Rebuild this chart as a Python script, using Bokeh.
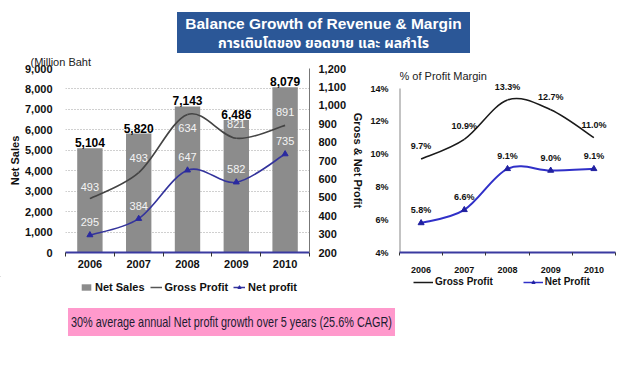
from bokeh.plotting import figure
from bokeh.models import (Range1d, LinearAxis, FixedTicker, Legend, LegendItem,
                          Div, NumeralTickFormatter, LabelSet, Label, ColumnDataSource)
from bokeh.layouts import column, row
from bokeh.embed import file_html
from bokeh.resources import INLINE
from bokeh.core.properties import value

# ---------------- data ----------------
years = ["2006", "2007", "2008", "2009", "2010"]
net_sales = [5104, 5820, 7143, 6486, 8079]
gross_profit = [493, 634, 950, 821, 891]
gross_profit_labels = ["493", "493", "634", "821", "891"]
net_profit = [295, 384, 647, 582, 735]
gross_margin = [9.7, 10.9, 13.3, 12.7, 11.0]
net_margin = [5.8, 6.6, 9.1, 9.0, 9.1]
sales_ticks = [0, 1000, 2000, 3000, 4000, 5000, 6000, 7000, 8000, 9000]
profit_ticks = [200, 300, 400, 500, 600, 700, 800, 900, 1000, 1100, 1200]
margin_ticks = [4, 6, 8, 10, 12, 14]

FONT = "Liberation Sans"
BAR = "#8c8c8c"
GROSS_L = "#444444"
NET_L = "#34349c"
GROSS_R = "#1a1a1a"
NET_R = "#3030c8"
idx = list(range(len(years)))


def smooth(xs, ys):
    """Bezier control points for a smoothed (Catmull-Rom) line through the data points."""
    n = len(xs)
    pts = list(zip(xs, ys))
    out = {k: [] for k in ("x0", "y0", "x1", "y1", "cx0", "cy0", "cx1", "cy1")}
    for i in range(n - 1):
        p0 = pts[i - 1] if i > 0 else pts[i]
        p1 = pts[i]
        p2 = pts[i + 1]
        p3 = pts[i + 2] if i + 2 < n else pts[i + 1]
        out["x0"].append(p1[0]); out["y0"].append(p1[1])
        out["x1"].append(p2[0]); out["y1"].append(p2[1])
        out["cx0"].append(p1[0] + (p2[0] - p0[0]) / 6)
        out["cy0"].append(p1[1] + (p2[1] - p0[1]) / 6)
        out["cx1"].append(p2[0] - (p3[0] - p1[0]) / 6)
        out["cy1"].append(p2[1] - (p3[1] - p1[1]) / 6)
    return out


def style_axis(ax, size):
    ax.major_label_text_font = FONT
    ax.major_label_text_font_style = "bold"
    ax.major_label_text_font_size = size
    ax.major_label_text_color = "#111111"
    ax.axis_label_text_font = FONT
    ax.axis_label_text_font_style = "bold"
    ax.axis_label_text_font_size = size
    ax.axis_label_text_color = "#111111"
    ax.minor_tick_line_color = None


def cat_xaxis(ax, size, standoff, tick_out):
    ax.ticker = FixedTicker(ticks=idx, minor_ticks=[i - 0.5 for i in range(len(years) + 1)])
    ax.major_label_overrides = {i: y for i, y in zip(idx, years)}
    ax.axis_line_color = "#3a3aa0"
    ax.axis_line_width = 2
    ax.major_tick_line_color = None
    ax.major_label_standoff = standoff
    style_axis(ax, size)
    ax.minor_tick_line_color = "#333333"
    ax.minor_tick_out = tick_out
    ax.minor_tick_in = 0


def legend_figure(width):
    # a strip that only carries a legend; its ranges lie away from the data, so only
    # the legend glyphs are seen
    f = figure(width=width, height=24, x_range=Range1d(100, 101),
               y_range=Range1d(-100000, -99999),
               output_backend="svg", toolbar_location=None, min_border=0,
               x_axis_type=None, y_axis_type=None)
    f.outline_line_color = None
    f.grid.visible = False
    return f


def style_legend(leg, size):
    leg.label_text_font = FONT
    leg.label_text_font_style = "bold"
    leg.label_text_font_size = size
    leg.label_text_color = "#111111"
    leg.border_line_color = None
    leg.background_fill_alpha = 0
    leg.padding = 0
    leg.margin = 0


# ---------------- left chart ----------------
p1 = figure(width=367, height=223, x_range=Range1d(-0.5, 4.5), y_range=Range1d(0, 9000),
            output_backend="svg", toolbar_location=None,
            min_border_left=65, min_border_right=50, min_border_top=15, min_border_bottom=24)
p1.extra_y_ranges = {"profit": Range1d(200, 1200)}
p1.outline_line_color = None
p1.title.text = "(Million Baht"
p1.title.text_font = FONT
p1.title.text_font_style = "normal"
p1.title.text_font_size = "11px"
p1.title.text_color = "#222222"
p1.title.align = "left"
p1.title.offset = -35
p1.title.standoff = 1

p1.vbar(x=idx, top=net_sales, width=0.52, fill_color=BAR, line_color=None)
p1.text(x=idx, y=net_sales, text=[f"{v:,}" for v in net_sales], text_align="center",
        text_baseline="bottom", y_offset=-1, text_font=value(FONT), text_font_style="bold",
        text_font_size="12px", text_color="#000000")

g = smooth(idx, gross_profit)
p1.bezier(source=g, x0="x0", y0="y0", x1="x1", y1="y1", cx0="cx0", cy0="cy0",
          cx1="cx1", cy1="cy1", line_color=GROSS_L, line_width=1.6, y_range_name="profit")
nn = smooth(idx, net_profit)
p1.bezier(source=nn, x0="x0", y0="y0", x1="x1", y1="y1", cx0="cx0", cy0="cy0",
          cx1="cx1", cy1="cy1", line_color=NET_L, line_width=1.6, y_range_name="profit")
p1.scatter(x=idx, y=net_profit, marker="triangle", size=6, fill_color="#2a2aa0",
           line_color="#2a2aa0", y_range_name="profit")

gross_dy = [-12, -15, 13, -14, -13]
for i in idx:
    p1.text(x=[i], y=[gross_profit[i]], text=[gross_profit_labels[i]], text_align="center",
            text_baseline="middle", y_offset=gross_dy[i], text_font=value(FONT),
            text_font_size="11px", text_color="#f4f4f4", y_range_name="profit")
p1.text(x=idx, y=net_profit, text=[str(v) for v in net_profit], text_align="center",
        text_baseline="middle", y_offset=-13, text_font=value(FONT),
        text_font_size="11px", text_color="#f4f4f4", y_range_name="profit")

ly = p1.yaxis[0]
ly.ticker = FixedTicker(ticks=sales_ticks)
ly.formatter = NumeralTickFormatter(format="0,0")
ly.axis_label = "Net Sales"
ly.axis_line_color = None
ly.major_tick_line_color = None
ly.major_label_standoff = 7
ly.axis_label_standoff = 1
style_axis(ly, "11px")

ry = LinearAxis(y_range_name="profit", ticker=FixedTicker(ticks=profit_ticks),
                formatter=NumeralTickFormatter(format="0,0"), axis_label="Gross & Net Profit")
ry.axis_line_color = "#777777"
ry.major_tick_line_color = None
ry.major_label_standoff = 3
ry.axis_label_standoff = 3
style_axis(ry, "11px")
p1.add_layout(ry, "right")

cat_xaxis(p1.xaxis[0], "11px", 1, 4)

p1.xgrid.visible = False
p1.ygrid.grid_line_color = "#a0a0a0"
p1.ygrid.grid_line_dash = "1 2"
p1.ygrid.ticker = FixedTicker(ticks=sales_ticks)

# ---------------- right chart ----------------
# frame spans the same height as the left chart; 4% sits on the axis, 14% is 20px below the frame top
m_top = 14 + 20 / 16.4
p2 = figure(width=253, height=223, x_range=Range1d(-0.5, 4.5), y_range=Range1d(4, m_top),
            output_backend="svg", toolbar_location=None,
            min_border_left=26, min_border_right=5, min_border_top=15, min_border_bottom=24)
p2.outline_line_color = None

p2.segment(x0=[-0.5], y0=[margin_ticks[0]], x1=[-0.5], y1=[margin_ticks[-1]],
           line_color="#888888", line_width=2)

gm = smooth(idx, gross_margin)
p2.bezier(source=gm, x0="x0", y0="y0", x1="x1", y1="y1", cx0="cx0", cy0="cy0",
          cx1="cx1", cy1="cy1", line_color=GROSS_R, line_width=1.6)
nm = smooth(idx, net_margin)
p2.bezier(source=nm, x0="x0", y0="y0", x1="x1", y1="y1", cx0="cx0", cy0="cy0",
          cx1="cx1", cy1="cy1", line_color=NET_R, line_width=2)
p2.scatter(x=idx, y=net_margin, marker="triangle", size=6, fill_color="#2020a0",
           line_color="#2020a0")

for vals in (gross_margin, net_margin):
    src = ColumnDataSource(dict(x=idx, y=vals, t=[f"{v:.1f}%" for v in vals]))
    p2.add_layout(LabelSet(x="x", y="y", text="t", source=src, text_align="center",
                           text_baseline="middle", y_offset=13, text_font=value(FONT),
                           text_font_style="bold", text_font_size="9px",
                           text_color="#111111"))

p2.add_layout(Label(x=-0.5, y=m_top, x_offset=0, y_offset=-7, text="% of Profit Margin",
                    text_baseline="middle", text_font=FONT, text_font_size="11px",
                    text_color="#222222"))

ay = p2.yaxis[0]
ay.ticker = FixedTicker(ticks=margin_ticks)
ay.major_label_overrides = {t: f"{t}%" for t in margin_ticks}
ay.axis_line_color = None
ay.major_tick_line_color = None
ay.major_label_standoff = 5
style_axis(ay, "9px")

cat_xaxis(p2.xaxis[0], "9px", 8, 3)

p2.xgrid.visible = False
p2.ygrid.visible = False

# ---------------- legends (own strips below the charts) ----------------
lf1 = legend_figure(367)
r_bar = lf1.vbar(x=idx, top=net_sales, width=0.5, fill_color=BAR, line_color=None)
r_gl = lf1.line(x=idx, y=gross_profit, line_color="#555555", line_width=1.5)
r_nl = lf1.line(x=idx, y=net_profit, line_color=NET_L, line_width=1.5)
r_nt = lf1.scatter(x=idx, y=net_profit, marker="triangle", size=6, fill_color="#2a2aa0",
                   line_color="#2a2aa0")
leg1 = Legend(items=[LegendItem(label="Net Sales", renderers=[r_bar]),
                     LegendItem(label="Gross Profit", renderers=[r_gl]),
                     LegendItem(label="Net profit", renderers=[r_nl, r_nt])],
              orientation="horizontal", location=(80, 7))
style_legend(leg1, "11px")
leg1.glyph_width = 12
leg1.glyph_height = 8
leg1.label_standoff = 3
leg1.spacing = 5
lf1.add_layout(leg1)

lf2 = legend_figure(253)
r2_gl = lf2.line(x=idx, y=gross_margin, line_color=GROSS_R, line_width=1.5)
r2_nl = lf2.line(x=idx, y=net_margin, line_color=NET_R, line_width=1.5)
r2_nt = lf2.scatter(x=idx, y=net_margin, marker="triangle", size=6, fill_color="#2020a0",
                    line_color="#2020a0")
leg2 = Legend(items=[LegendItem(label="Gross Profit", renderers=[r2_gl]),
                     LegendItem(label="Net Profit", renderers=[r2_nl, r2_nt])],
              orientation="horizontal", location=(46, 13))
style_legend(leg2, "10px")
leg2.glyph_width = 20
leg2.glyph_height = 8
leg2.label_standoff = 2
leg2.spacing = 30
lf2.add_layout(leg2)

# ---------------- title and footer ----------------
title = Div(text=(
    '<div style="width:293px;height:41px;background:#2b5797;color:#ffffff;'
    'font-family:\'Liberation Sans\',\'Noto Sans Thai\',\'Noto Sans\',sans-serif;font-weight:bold;'
    'text-align:center;line-height:18px;padding-top:3px;box-sizing:border-box;">'
    '<span style="font-size:15.5px;">Balance Growth of Revenue &amp; Margin</span><br>'
    '<span style="font-size:14px;">การเติบโตของ ยอดขาย และ ผลกำไร</span></div>'),
    width=293, height=41, margin=(12, 0, 0, 177))

footer = Div(text=(
    '<div style="width:327px;height:28px;background:#ff99cc;color:#1c1c30;'
    'font-family:\'Liberation Sans\',sans-serif;font-size:15px;line-height:28px;'
    'padding-left:3px;box-sizing:border-box;white-space:nowrap;overflow:hidden;">'
    '<span style="display:inline-block;transform:scaleX(0.725);transform-origin:0 50%;">'
    '30% average annual Net profit growth over 5 years (25.6% CAGR)</span></div>'),
    width=327, height=28, margin=(8, 0, 0, 68))

layout = column(title, row(p1, p2, spacing=0), row(lf1, lf2, spacing=0), footer, spacing=0)

open("out.html", "w").write(file_html(layout, INLINE))
